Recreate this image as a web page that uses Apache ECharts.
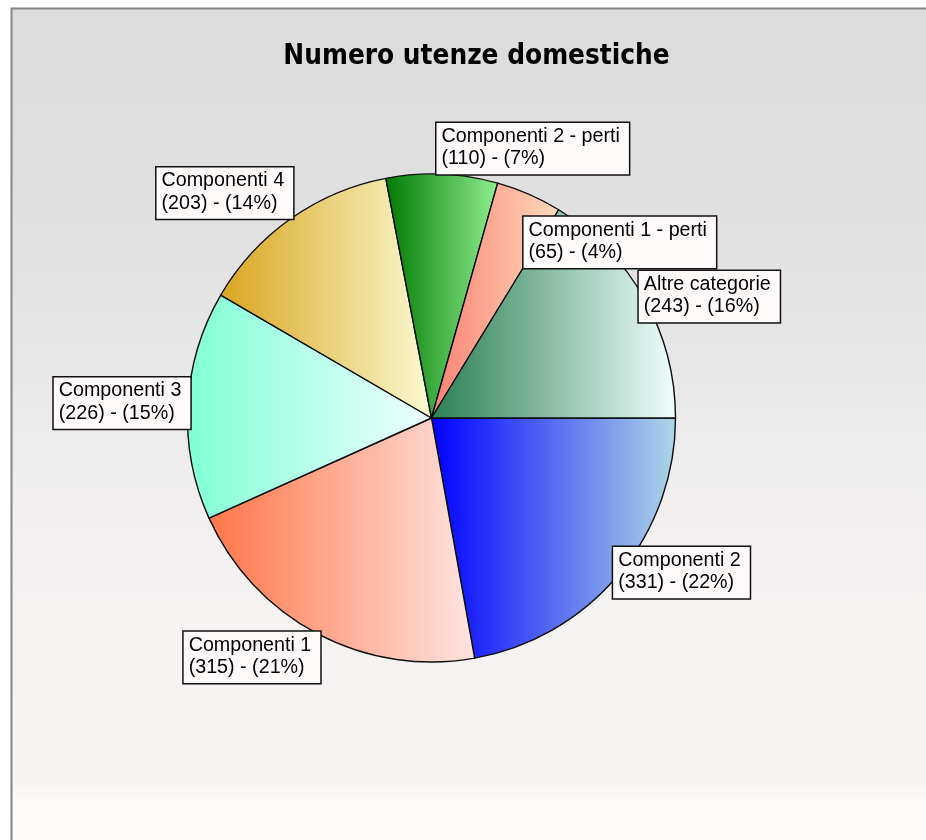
<!DOCTYPE html>
<html><head><meta charset="utf-8">
<script src="https://cdn.jsdelivr.net/npm/echarts/dist/echarts.min.js"></script>
<style>html,body{margin:0;padding:0;background:#fff}#c{width:926px;height:840px}</style>
</head><body><div id="c"></div>
<script>
// ---- data ----
const titleText = 'Numero utenze domestiche';
const categories = ['Componenti 2', 'Componenti 1', 'Componenti 3', 'Componenti 4',
  'Componenti 2 - perti', 'Componenti 1 - perti', 'Altre categorie'];
const values = [331, 315, 226, 203, 110, 65, 243];

// ---- styles ----
const startColors = ['#0000FF', '#FF7648', '#7FFFD4', '#DAA520', '#007A00', '#FA8072', '#2B7F52'];
const endColors   = ['#ADD8E6', '#FFE4E1', '#F0FFFF', '#FAFAD2', '#90EE90', '#FFDAB9', '#F0FFFF'];

const CX = 431.5, CY = 418, R = 244;
const chart = echarts.init(document.getElementById('c'), null, { renderer: 'canvas' });

const seriesData = categories.map((name, i) => ({
  name: name,
  value: values[i],
  itemStyle: {
    color: { type: 'linear', x: 0, y: 0, x2: 1, y2: 0,
      colorStops: [{ offset: 0, color: startColors[i] }, { offset: 1, color: endColors[i] }] }
  }
}));

const pts = [];
function collect(params) {
  const lp = params.labelLinePoints;
  const r = params.labelRect;
  let P;
  if (lp && lp.length) P = lp[0];
  else P = params.align === 'right' ? [r.x + r.width + 5, r.y + r.height / 2] : [r.x - 5, r.y + r.height / 2];
  pts[params.dataIndex] = { P: P, w: r.width, h: r.height };
  return {};
}

function computeRects() {
  const rects = pts.map(o => {
    const dx = o.P[0] - CX, dy = o.P[1] - CY;
    const ang = Math.atan2(dy, dx);
    const x = dx >= 0 ? o.P[0] - 5.5 : o.P[0] + 5.5 - o.w;
    let y;
    if (Math.abs(Math.sin(ang)) > Math.SQRT1_2) y = dy < 0 ? o.P[1] + 3 - o.h : o.P[1] - 2;
    else y = o.P[1] - 0.5 - o.h / 2;
    return { x: x, y: y, w: o.w, h: o.h };
  });
  const overlap = (a, b) => a.x < b.x + b.w && b.x < a.x + a.w && a.y < b.y + b.h && b.y < a.y + a.h;
  for (let i = 1; i < rects.length; i++) {
    const hit = rects.slice(0, i).filter(r => overlap(r, rects[i]));
    if (!hit.length) continue;
    const nxt = rects[i + 1];
    if (nxt) {
      const c = Object.assign({}, rects[i], { y: nxt.y - rects[i].h });
      if (!rects.some((r, k) => k !== i && overlap(r, c))) { rects[i] = c; continue; }
    }
    rects[i].y = Math.max.apply(null, hit.map(r => r.y + r.h));
  }
  return rects;
}

const option = {
  animation: false,
  graphic: [{
    type: 'rect', z: -10, silent: true,
    shape: { x: 11.5, y: 8.5, width: 1000, height: 900 },
    style: {
      fill: { type: 'linear', x: 0, y: 8, x2: 0, y2: 840, global: true,
        colorStops: [
          { offset: 0, color: '#dcdcdc' }, { offset: 0.15, color: '#dedede' },
          { offset: 0.3, color: '#e3e2e2' }, { offset: 0.45, color: '#e9e8e8' },
          { offset: 0.6, color: '#f1efef' }, { offset: 0.72, color: '#f5f3f2' },
          { offset: 0.93, color: '#f7f3f2' }, { offset: 0.95, color: '#fcf9f8' },
          { offset: 1, color: '#fdfafa' }] },
      stroke: '#858585', lineWidth: 2
    }
  }],
  title: {
    text: titleText, left: 476.5, textAlign: 'center', top: 43, padding: 0,
    textStyle: { fontFamily: '"DejaVu Sans Condensed", "DejaVu Sans"', fontWeight: 'bold', fontSize: 27.7, color: '#000' }
  },
  series: [{
    type: 'pie',
    center: [CX, CY],
    radius: R,
    startAngle: 0,
    clockwise: true,
    avoidLabelOverlap: false,
    data: seriesData,
    itemStyle: { borderColor: '#0d0d0d', borderWidth: 1.4 },
    emphasis: { disabled: true },
    label: {
      show: true, position: 'outside',
      formatter: p => p.name + '\n(' + p.value + ') - (' + Math.round(p.percent) + '%)',
      fontFamily: '"Liberation Sans", Arial, sans-serif', fontSize: 19.7, lineHeight: 22.6, color: '#000',
      backgroundColor: '#fffbfa', borderColor: '#111', borderWidth: 1.5,
      padding: [2, 9, 4, 5], align: 'left'
    },
    labelLine: { show: true, length: 0, length2: 0, lineStyle: { opacity: 0, width: 0 } },
    labelLayout: collect
  }]
};
chart.setOption(option);
const rects = computeRects();
chart.setOption({ series: [{ labelLayout: function (params) {
  const r = rects[params.dataIndex];
  return { x: r.x, y: r.y, align: 'left', verticalAlign: 'top' };
} }] });
</script></body></html>
